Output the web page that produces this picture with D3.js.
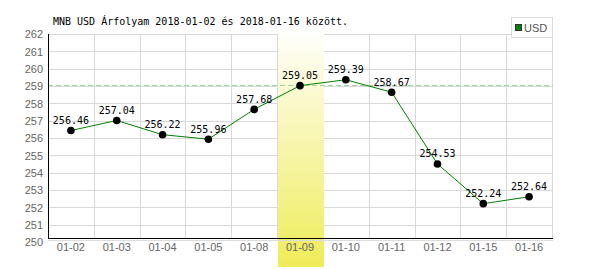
<!DOCTYPE html>
<html>
<head>
<meta charset="utf-8">
<script src="https://cdn.jsdelivr.net/npm/d3@7"></script>
<style>
  body{margin:0;background:#fff;}
  svg{display:block;}
</style>
</head>
<body>
<div id="chart"></div>
<script>
// data
const dates = ["01-02","01-03","01-04","01-05","01-08","01-09","01-10","01-11","01-12","01-15","01-16"];
const rates = [256.46, 257.04, 256.22, 255.96, 257.68, 259.05, 259.39, 258.67, 254.53, 252.24, 252.64];
const yTicks = [250,251,252,253,254,255,256,257,258,259,260,261,262];
const highlightDate = "01-09";
const refValue = 259.05;
const title = "MNB USD Árfolyam 2018-01-02 és 2018-01-16 között.";
const seriesName = "USD";

const width = 600, height = 270;
const plotLeft = 48, plotRight = 552, plotTop = 34, axisY = 238;

const svg = d3.select("#chart").append("svg")
    .attr("width", width)
    .attr("height", height);

const x = d3.scaleBand().domain(dates).range([plotLeft, plotRight]).padding(0);
// the original's x axis sits a few px above the 250 value
const y = d3.scaleLinear().domain([250, 262]).range([242.5, 34.5]);

const px = v => Math.round(v) + 0.5;

// gradient for the highlighted day
const grad = svg.append("defs").append("linearGradient")
    .attr("id", "hl").attr("x1", 0).attr("y1", 0).attr("x2", 0).attr("y2", 1);
grad.append("stop").attr("offset", "0%").attr("stop-color", "#ffffff");
grad.append("stop").attr("offset", "100%").attr("stop-color", "#efec58");

// grid
svg.append("g").selectAll("line")
    .data(yTicks.filter(d => d > 250))
    .join("line")
    .attr("x1", plotLeft).attr("x2", plotRight + 1)
    .attr("y1", d => px(y(d) - 0.5)).attr("y2", d => px(y(d) - 0.5))
    .attr("stroke", "#d9d9d9");

svg.append("g").selectAll("line")
    .data(dates)
    .join("line")
    .attr("x1", d => px(x(d) + x.bandwidth())).attr("x2", d => px(x(d) + x.bandwidth()))
    .attr("y1", plotTop).attr("y2", axisY)
    .attr("stroke", "#d9d9d9");

// highlight band
svg.append("rect")
    .attr("x", Math.round(x(highlightDate)) + 1)
    .attr("y", 28)
    .attr("width", Math.round(x.bandwidth()))
    .attr("height", height - 3 - 28)
    .attr("fill", "url(#hl)");

// reference line
svg.append("line")
    .attr("x1", plotLeft).attr("x2", plotRight + 1)
    .attr("y1", px(y(refValue) - 0.5)).attr("y2", px(y(refValue) - 0.5))
    .attr("stroke", "#9fd49a")
    .attr("stroke-dasharray", "5,3");

// axes
svg.append("line")
    .attr("x1", plotLeft + 0.5).attr("x2", plotLeft + 0.5)
    .attr("y1", plotTop).attr("y2", axisY + 1)
    .attr("stroke", "#000");
svg.append("line")
    .attr("x1", plotLeft).attr("x2", plotRight + 1)
    .attr("y1", axisY + 0.5).attr("y2", axisY + 0.5)
    .attr("stroke", "#000");
svg.append("line")
    .attr("x1", plotLeft).attr("x2", plotRight + 1)
    .attr("y1", axisY + 2.5).attr("y2", axisY + 2.5)
    .attr("stroke", "#dcdcdc");

// tick labels
svg.append("g").selectAll("text")
    .data(yTicks)
    .join("text")
    .attr("x", 43)
    .attr("y", d => y(d))
    .attr("dy", "0.36em")
    .attr("text-anchor", "end")
    .attr("font-family", "Liberation Sans, Arial, sans-serif")
    .attr("font-size", 11)
    .attr("fill", "#666")
    .text(d => d);

svg.append("g").selectAll("text")
    .data(dates)
    .join("text")
    .attr("x", d => x(d) + x.bandwidth() / 2)
    .attr("y", 251)
    .attr("text-anchor", "middle")
    .attr("font-family", "Liberation Sans, Arial, sans-serif")
    .attr("font-size", 11)
    .attr("fill", "#666")
    .text(d => d);

// series line
const line = d3.line()
    .x((d, i) => x(dates[i]) + x.bandwidth() / 2)
    .y(d => y(d));

svg.append("path")
    .datum(rates)
    .attr("d", line)
    .attr("fill", "none")
    .attr("stroke", "#008000")
    .attr("stroke-width", 1);

svg.append("g").selectAll("circle")
    .data(rates)
    .join("circle")
    .attr("cx", (d, i) => x(dates[i]) + x.bandwidth() / 2)
    .attr("cy", d => y(d))
    .attr("r", 3.8)
    .attr("fill", "#000");

svg.append("g").selectAll("text")
    .data(rates)
    .join("text")
    .attr("x", (d, i) => x(dates[i]) + x.bandwidth() / 2)
    .attr("y", d => y(d) - 6.5)
    .attr("text-anchor", "middle")
    .attr("font-family", "DejaVu Sans Mono, monospace")
    .attr("font-size", 10)
    .attr("fill", "#000")
    .text(d => d.toFixed(2));

// title
svg.append("text")
    .attr("x", 53)
    .attr("y", 25)
    .attr("font-family", "DejaVu Sans Mono, monospace")
    .attr("font-size", 10)
    .attr("fill", "#000")
    .text(title);

// legend
const lg = svg.append("g");
lg.append("rect")
    .attr("x", 511.5).attr("y", 17.5)
    .attr("width", 41).attr("height", 20)
    .attr("fill", "#fff")
    .attr("stroke", "#dcdcdc");
lg.append("rect")
    .attr("x", 515.5).attr("y", 24.5)
    .attr("width", 6).attr("height", 6)
    .attr("fill", "#008000")
    .attr("stroke", "#333");
lg.append("text")
    .attr("x", 524)
    .attr("y", 31.5)
    .attr("font-family", "Liberation Sans Narrow, Liberation Sans, sans-serif")
    .attr("font-size", 11)
    .attr("fill", "#555")
    .text(seriesName);
</script>
</body>
</html>
